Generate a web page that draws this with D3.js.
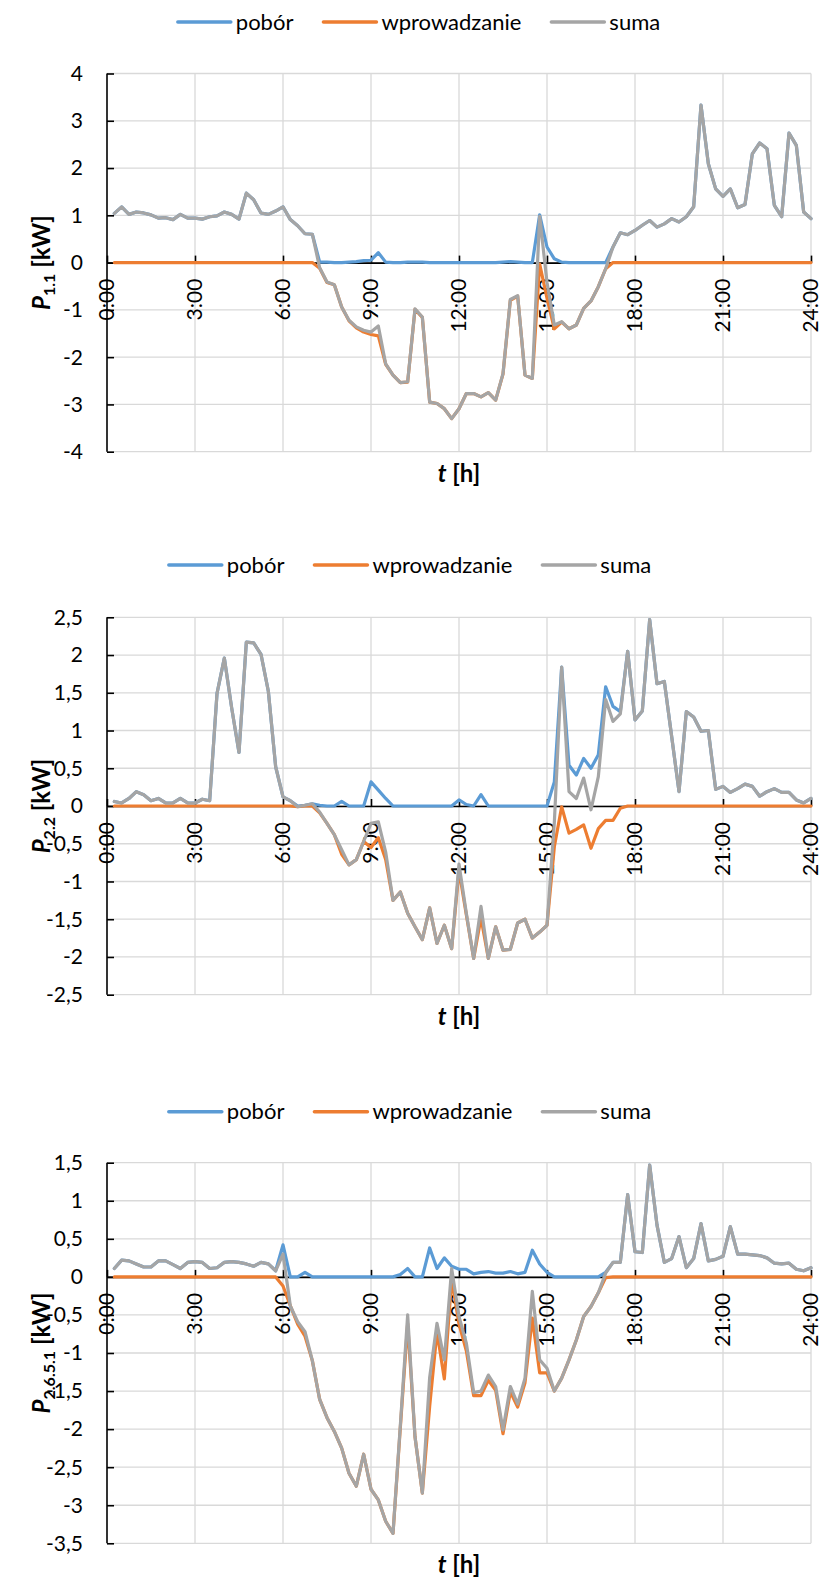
<!DOCTYPE html>
<html>
<head>
<meta charset="utf-8">
<script src="https://cdn.jsdelivr.net/npm/d3@7"></script>
<style>
  body { margin: 0; background: #fff; }
  svg { display: block; }
  text { font-family: Lato, "Open Sans", sans-serif; fill: #000; }
</style>
</head>
<body>
<svg id="chart" width="821" height="1578"></svg>
<script>
// ---------- data ----------
const seriesNames = ["pobór", "wprowadzanie", "suma"];
const xTickHours = [0, 3, 6, 9, 12, 15, 18, 21, 24];
const xTickLabels = ["0:00", "3:00", "6:00", "9:00", "12:00", "15:00", "18:00", "21:00", "24:00"];
const yTicks1 = [-4, -3, -2, -1, 0, 1, 2, 3, 4];
const yTicks2 = [-2.5, -2, -1.5, -1, -0.5, 0, 0.5, 1, 1.5, 2, 2.5];
const yTicks3 = [-3.5, -3, -2.5, -2, -1.5, -1, -0.5, 0, 0.5, 1, 1.5];

// 15-minute readings, 0:15 ... 24:00
const pobor1 = [1.04,1.18,1.02,1.07,1.05,1.01,0.94,0.95,0.91,1.02,0.94,0.94,0.92,0.97,0.99,1.07,1.02,0.92,1.47,1.33,1.05,1.02,1.09,1.18,0.91,0.78,0.61,0.60,
  0.01,0.01,0,0,0.01,0.02,0.04,0.05,0.21,0.01,0,0,
  0.01,0.01,0.01,0,0,0,0,0,0,0,0,0,0,0.01,0.02,0.01,0,0,
  1.01,0.33,0.08,0.01,0,0,0,0,0,0,
  0.33,0.63,0.59,0.68,0.79,0.89,0.75,0.82,0.93,0.86,0.97,1.18,3.33,2.09,1.56,1.40,1.56,1.16,1.23,2.30,2.53,2.41,1.21,0.97,2.74,2.48,1.07,0.93];
const wprow1 = [0,0,0,0,0,0,0,0,0,0,0,0,0,0,0,0,0,0,0,0,0,0,0,0,0,0,0,0,
  -0.12,-0.42,-0.47,-0.94,-1.23,-1.38,-1.47,-1.52,-1.55,-2.15,-2.38,-2.54,-2.53,-0.99,-1.16,-2.95,
  -2.98,-3.09,-3.30,-3.09,-2.77,-2.77,-2.84,-2.75,-2.91,
  -2.36,-0.80,-0.71,-2.38,-2.45,-0.03,-0.75,-1.40,-1.26,-1.40,-1.32,-0.97,-0.81,-0.51,-0.13,
  0,0,0,0,0,0,0,0,0,0,0,0,0,0,0,0,0,0,0,0,0,0,0,0,0,0,0,0];
const suma1 = [1.04,1.18,1.02,1.07,1.05,1.01,0.94,0.95,0.91,1.02,0.94,0.94,0.92,0.97,0.99,1.07,1.02,0.92,1.47,1.33,1.05,1.02,1.09,1.18,0.91,0.78,0.61,0.60,
  -0.11,-0.41,-0.47,-0.94,-1.22,-1.36,-1.43,-1.47,-1.34,-2.14,-2.38,-2.54,-2.52,-0.98,-1.15,-2.95,-2.98,-3.09,-3.30,-3.09,-2.77,-2.77,
  -2.84,-2.75,-2.91,-2.35,-0.78,-0.70,-2.38,-2.45,0.98,-0.42,-1.32,-1.25,-1.40,-1.32,-0.97,-0.81,-0.51,-0.13,
  0.33,0.63,0.59,0.68,0.79,0.89,0.75,0.82,0.93,0.86,0.97,1.18,3.33,2.09,1.56,1.40,1.56,1.16,1.23,2.30,2.53,2.41,1.21,0.97,2.74,2.48,1.07,0.93];

const pobor2 = [0.06,0.04,0.10,0.19,0.15,0.07,0.10,0.04,0.04,0.10,0.04,0.04,0.09,0.07,1.49,1.96,1.30,0.71,2.17,2.16,2.01,1.52,0.52,0.12,0.07,
  0,0.01,0.03,0.01,0,0,0.06,0,0,0,0.32,0.21,0.10,0,0,
  0,0,0,0,0,0,0,0.08,0.02,0,0.15,0,0,0,0,0,0,0,0,0,
  0.32,1.84,0.54,0.41,0.63,0.50,0.68,1.58,1.32,1.25,
  2.05,1.14,1.26,2.47,1.62,1.65,0.92,0.19,1.25,1.18,0.99,1.00,0.22,0.26,0.18,0.23,0.29,0.26,0.13,0.19,0.23,0.18,0.18,0.08,0.04,0.10];
const wprow2 = [0,0,0,0,0,0,0,0,0,0,0,0,0,0,0,0,0,0,0,0,0,0,0,0,0,-0.01,0,0,
  -0.09,-0.23,-0.38,-0.64,-0.78,-0.71,-0.47,-0.55,-0.42,-0.71,-1.25,-1.14,-1.42,-1.60,-1.77,-1.35,-1.82,-1.58,-1.89,-0.85,-1.44,-2.02,
  -1.48,-2.02,-1.60,-1.91,-1.90,-1.55,-1.50,-1.75,-1.67,-1.58,
  -0.54,-0.01,-0.36,-0.31,-0.25,-0.56,-0.30,-0.19,-0.19,-0.03,
  0,0,0,0,0,0,0,0,0,0,0,0,0,0,0,0,0,0,0,0,0,0,0,0,0,0];
const suma2 = [0.06,0.04,0.10,0.19,0.15,0.07,0.10,0.04,0.04,0.10,0.04,0.04,0.09,0.07,1.49,1.96,1.30,0.71,2.17,2.16,2.01,1.52,0.52,0.12,0.07,
  -0.01,0.01,0.03,-0.08,-0.23,-0.38,-0.58,-0.78,-0.71,-0.47,-0.23,-0.21,-0.61,-1.25,-1.14,-1.42,-1.60,-1.77,-1.35,-1.82,-1.58,-1.89,-0.77,
  -1.42,-2.02,-1.33,-2.02,-1.60,-1.91,-1.90,-1.55,-1.50,-1.75,-1.67,-1.58,
  -0.22,1.84,0.19,0.10,0.37,-0.05,0.39,1.41,1.12,1.22,
  2.05,1.14,1.26,2.47,1.62,1.65,0.92,0.19,1.25,1.18,0.99,1.00,0.22,0.26,0.18,0.23,0.29,0.26,0.13,0.19,0.23,0.18,0.18,0.08,0.04,0.10];

const pobor3 = [0.11,0.22,0.21,0.17,0.13,0.13,0.21,0.21,0.16,0.11,0.19,0.20,0.19,0.11,0.12,0.19,0.20,0.19,0.17,0.14,0.19,0.17,0.08,
  0.42,0,0,0.06,0,0,0,0,0,0,0,0,0,0,0,0,0.03,
  0.11,0,0,0.38,0.11,0.25,0.14,0.10,0.10,0.04,0.06,0.07,0.05,0.05,0.07,0.04,0.06,0.35,0.17,0.06,
  0,0,0,0,0,0,0,0.06,
  0.19,0.19,1.08,0.33,0.32,1.47,0.68,0.19,0.24,0.53,0.12,0.24,0.70,0.21,0.23,0.27,0.66,0.30,0.30,0.29,0.28,0.25,0.18,0.17,0.18,0.10,0.08,0.12];
const wprow3 = [0,0,0,0,0,0,0,0,0,0,0,0,0,0,0,0,0,0,0,0,0,0,0,
  -0.12,-0.38,-0.62,-0.78,-1.10,-1.61,-1.85,-2.03,-2.25,-2.58,-2.75,-2.33,-2.79,-2.93,-3.21,-3.37,
  -1.98,-0.61,-2.10,-2.84,-1.70,-0.72,-1.34,-0.03,-0.62,-0.97,-1.56,-1.56,-1.36,-1.49,-2.06,-1.51,-1.71,-1.39,-0.54,-1.26,
  -1.26,-1.50,-1.33,-1.09,-0.83,-0.52,-0.39,-0.21,-0.01,
  0,0,0,0,0,0,0,0,0,0,0,0,0,0,0,0,0,0,0,0,0,0,0,0,0,0,0,0];
const suma3 = [0.11,0.22,0.21,0.17,0.13,0.13,0.21,0.21,0.16,0.11,0.19,0.20,0.19,0.11,0.12,0.19,0.20,0.19,0.17,0.14,0.19,0.17,0.08,
  0.30,-0.38,-0.59,-0.72,-1.10,-1.61,-1.85,-2.03,-2.25,-2.58,-2.75,-2.33,-2.79,-2.93,-3.21,-3.37,-1.95,-0.50,-2.10,-2.84,
  -1.32,-0.61,-1.09,0.11,-0.52,-0.87,-1.52,-1.50,-1.29,-1.44,-2.01,-1.44,-1.67,-1.33,-0.19,-1.09,-1.20,-1.50,-1.33,-1.09,
  -0.83,-0.52,-0.39,-0.21,0.05,
  0.19,0.19,1.08,0.33,0.32,1.47,0.68,0.19,0.24,0.53,0.12,0.24,0.70,0.21,0.23,0.27,0.66,0.30,0.30,0.29,0.28,0.25,0.18,0.17,0.18,0.10,0.08,0.12];

// time of each reading in hours (category positions)
const hours = d3.range(1, 97).map(j => j / 4);

// ---------- drawing ----------
const colors = ["#5B9BD5", "#ED7D31", "#A5A5A5"];
const svg = d3.select("#chart");
const FONT = 21;
const TITLE = 24;
const fmt = v => String(v).replace(".", ",");

const charts = [
  { series: [pobor1, wprow1, suma1], yTicks: yTicks1, sub: "1.1",     top: 73.5,   bottom: 451.7,  legendY: 22,    legendCx: 419 },
  { series: [pobor2, wprow2, suma2], yTicks: yTicks2, sub: "2.2",     top: 617.3,  bottom: 994.7,  legendY: 565,   legendCx: 410 },
  { series: [pobor3, wprow3, suma3], yTicks: yTicks3, sub: "2.6.5.1", top: 1162.7, bottom: 1543.3, legendY: 1111.7, legendCx: 410 }
];

const x = d3.scaleLinear().domain([0, 24]).range([107, 811]);

charts.forEach(c => {
  const g = svg.append("g");
  const y = d3.scaleLinear().domain(d3.extent(c.yTicks)).range([c.bottom, c.top]);
  const y0 = y(0);

  // gridlines
  g.append("g").selectAll("line").data(c.yTicks).join("line")
    .attr("x1", x(0)).attr("x2", x(24))
    .attr("y1", d => y(d)).attr("y2", d => y(d))
    .attr("stroke", "#d9d9d9").attr("stroke-width", 1.3);
  g.append("g").selectAll("line").data(xTickHours.slice(1)).join("line")
    .attr("x1", d => x(d)).attr("x2", d => x(d))
    .attr("y1", c.top).attr("y2", c.bottom)
    .attr("stroke", "#d9d9d9").attr("stroke-width", 1.3);

  // y axis (ticks inside)
  const yAxis = d3.axisRight(y).tickValues(c.yTicks).tickSize(7).tickFormat("");
  const ya = g.append("g").attr("transform", `translate(${x(0)},0)`).call(yAxis);
  ya.select(".domain").attr("stroke", "#000").attr("stroke-width", 1.6).attr("d", `M0,${c.top}V${c.bottom}`);
  ya.selectAll(".tick line").attr("stroke", "#000").attr("stroke-width", 1.6);
  g.append("g").selectAll("text").data(c.yTicks).join("text")
    .attr("x", 83).attr("y", d => y(d)).attr("dy", "0.35em")
    .attr("text-anchor", "end").attr("font-size", FONT)
    .text(fmt);

  // x axis at zero (ticks pointing up)
  const xAxis = d3.axisTop(x).tickValues(xTickHours).tickSize(7).tickFormat("").tickSizeOuter(0);
  const xa = g.append("g").attr("transform", `translate(0,${y0})`).call(xAxis);
  xa.select(".domain").attr("stroke", "#000").attr("stroke-width", 1.6);
  xa.selectAll(".tick line").attr("stroke", "#000").attr("stroke-width", 1.6);
  g.append("g").selectAll("text").data(xTickHours).join("text")
    .attr("transform", d => `translate(${x(d)},${y0 + 16}) rotate(-90)`)
    .attr("text-anchor", "end").attr("dy", "0.35em").attr("font-size", FONT)
    .text((d, i) => xTickLabels[i]);

  // series
  const line = d3.line().x((d, i) => x(hours[i])).y(d => y(d));
  c.series.forEach((s, k) => {
    g.append("path").datum(s).attr("d", line)
      .attr("fill", "none").attr("stroke", colors[k]).attr("stroke-width", 3.2)
      .attr("stroke-linejoin", "round").attr("stroke-linecap", "round");
  });

  // y title (centred on the plot by measurement)
  const ytG = g.append("g").attr("transform", `translate(50,${(c.top + c.bottom) / 2}) rotate(-90)`);
  const yt = ytG.append("text").attr("x", 0).attr("y", 0)
    .attr("font-size", TITLE).attr("font-weight", "bold");
  yt.append("tspan").attr("font-style", "italic").text("P");
  yt.append("tspan").attr("font-size", 16).attr("dy", 5).text(c.sub);
  yt.append("tspan").attr("dy", -5).text(" [kW]");
  const ytLen = yt.node().getComputedTextLength();
  yt.attr("x", -ytLen / 2);

  // x title
  const xt = g.append("text").attr("y", c.bottom + 30)
    .attr("font-size", TITLE).attr("font-weight", "bold");
  xt.append("tspan").attr("font-style", "italic").text("t");
  xt.append("tspan").text(" [h]");
  const xtLen = xt.node().getComputedTextLength();
  xt.attr("x", (x(0) + x(24)) / 2 - xtLen / 2);

  // legend
  const lg = g.append("g");
  const items = seriesNames.map((n, k) => {
    const it = lg.append("g");
    it.append("line").attr("x1", 0).attr("x2", 53).attr("y1", 0).attr("y2", 0)
      .attr("stroke", colors[k]).attr("stroke-width", 3.5).attr("stroke-linecap", "round");
    const t = it.append("text").attr("x", 58).attr("dy", "0.35em").attr("font-size", FONT + 1).text(n);
    return { it, w: 58 + t.node().getComputedTextLength() };
  });
  const total = d3.sum(items, d => d.w) + 30 * (items.length - 1);
  let cx = c.legendCx - total / 2;
  items.forEach(d => {
    d.it.attr("transform", `translate(${cx},${c.legendY})`);
    cx += d.w + 30;
  });
});
</script>
</body>
</html>
